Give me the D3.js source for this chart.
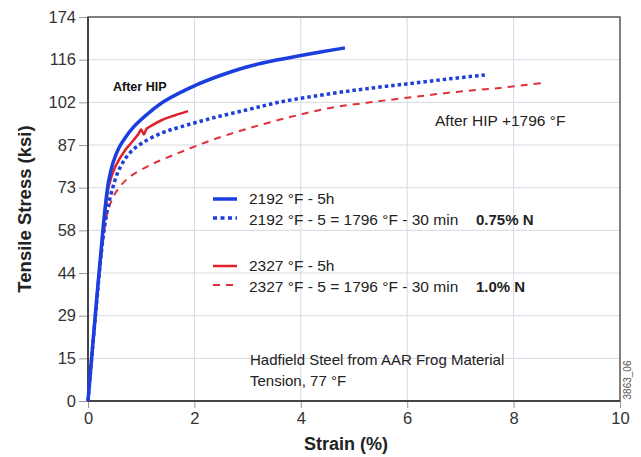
<!DOCTYPE html>
<html>
<head>
<meta charset="utf-8">
<script src="https://cdn.jsdelivr.net/npm/d3@7"></script>
<style>
    body { margin: 0; background: #fff; }
    svg text { font-family: Arial, "Liberation Sans", Helvetica, sans-serif; }
</style>
</head>
<body>
<div id="chart"></div>
<script>
// strain (%) vs tensile stress
const strainBlue = [0, 0.15, 0.28, 0.33, 0.39, 0.47, 0.58, 0.7, 0.85, 1.15, 1.45, 2.05, 2.5, 3.0, 3.5, 4.0, 4.4, 4.83];
const stressBlue = [0, 32, 58, 67, 75, 81, 86, 89.5, 93, 98, 102, 107.5, 110.7, 113.6, 115.7, 117.4, 118.7, 120];

const strainBlueHT = [0, 0.15, 0.28, 0.36, 0.45, 0.58, 0.77, 1.02, 1.39, 1.73, 2.35, 3.0, 3.61, 4.61, 5.4, 6.11, 6.8, 7.46];
const stressBlueHT = [0, 31, 55, 64.5, 71.5, 78.5, 84, 87.7, 91.1, 93.1, 96.2, 99, 101.6, 104.6, 106.5, 108, 109.5, 110.8];

const strainRed = [0, 0.15, 0.28, 0.33, 0.39, 0.51, 0.7, 0.85, 0.96, 1.0, 1.05, 1.1, 1.15, 1.39, 1.65, 1.88];
const stressRed = [0, 31.5, 57, 65.5, 73, 79.5, 85.3, 88.5, 91.1, 92.3, 90.6, 92.5, 93.1, 95.5, 97.2, 98.5];

const strainRedHT = [0, 0.15, 0.28, 0.36, 0.51, 0.77, 1.15, 1.39, 1.73, 2.3, 2.99, 3.8, 4.55, 5.3, 6.11, 6.9, 7.74, 8.56];
const stressRedHT = [0, 30, 54, 63.5, 70.5, 76, 80, 82, 84.5, 88.5, 92.5, 96.5, 99.6, 101.5, 103.3, 105, 106.4, 108.1];

// y ticks are evenly spaced (100 MPa steps) but labelled in ksi
const yTickValues = [0, 14.5, 29, 43.5, 58, 72.5, 87, 101.5, 116, 130.5];
const yTickLabels = ["0", "15", "29", "44", "58", "73", "87", "102", "116", "174"];
const xTickValues = [0, 2, 4, 6, 8, 10];

const legendLabels = ["2192 °F - 5h", "2192 °F - 5 = 1796 °F - 30 min", "2327 °F - 5h", "2327 °F - 5 = 1796 °F - 30 min"];
const nitrogenLabels = ["0.75% N", "1.0% N"];

let width = 641, height = 457;
let x = d3.scaleLinear().domain([0, 10]).range([88, 620]);
let y = d3.scaleLinear().domain([0, 130.5]).range([401, 17]);

let svg = d3.select("#chart").append("svg")
    .attr("width", width)
    .attr("height", height);

// grid
svg.append("g").selectAll("line")
    .data(yTickValues.slice(1, -1))
    .enter().append("line")
    .attr("x1", x(0)).attr("x2", x(10))
    .attr("y1", d => y(d)).attr("y2", d => y(d))
    .attr("stroke", "#d6d9e4").attr("stroke-width", 1);
svg.append("g").selectAll("line")
    .data(xTickValues.slice(1, -1))
    .enter().append("line")
    .attr("x1", d => x(d)).attr("x2", d => x(d))
    .attr("y1", y(0)).attr("y2", y(130.5))
    .attr("stroke", "#d6d9e4").attr("stroke-width", 1);

// axes
let yAxis = d3.axisLeft(y)
    .tickValues(yTickValues)
    .tickFormat((d, i) => yTickLabels[i])
    .tickSize(9).tickPadding(3);
let xAxis = d3.axisBottom(x)
    .tickValues(xTickValues)
    .tickFormat(d3.format("d"))
    .tickSize(7).tickPadding(4);

let gy = svg.append("g").attr("transform", "translate(" + x(0) + ",0)").call(yAxis);
let gx = svg.append("g").attr("transform", "translate(0," + y(0) + ")").call(xAxis);
[gy, gx].forEach(g => {
    g.select(".domain").remove();
    g.selectAll(".tick line").attr("stroke", "#999");
    g.selectAll(".tick text").attr("fill", "#333").style("font-size", "16.5px");
});

// frame
svg.append("rect")
    .attr("x", x(0)).attr("y", y(130.5))
    .attr("width", x(10) - x(0)).attr("height", y(0) - y(130.5))
    .attr("fill", "none").attr("stroke", "#555").attr("stroke-width", 1.5);
svg.append("path")
    .attr("d", "M" + x(0) + "," + y(130.5) + "V" + y(0) + "H" + x(10))
    .attr("fill", "none").attr("stroke", "#444").attr("stroke-width", 2);

// curves
let line = d3.line()
    .x(d => x(d[0]))
    .y(d => y(d[1]))
    .curve(d3.curveCatmullRom.alpha(0.5));

let series = [
    {sx: strainRedHT, sy: stressRedHT, color: "#e0303a", w: 2, dash: "7,6"},
    {sx: strainBlueHT, sy: stressBlueHT, color: "#1f3fd8", w: 3.5, dash: "3.5,3"},
    {sx: strainRed, sy: stressRed, color: "#e0202a", w: 2.5, dash: null},
    {sx: strainBlue, sy: stressBlue, color: "#1a3ee0", w: 3.5, dash: null}
];

svg.append("g").selectAll("path")
    .data(series)
    .enter().append("path")
    .attr("d", s => line(s.sx.map((v, i) => [v, s.sy[i]])))
    .attr("fill", "none")
    .attr("stroke", s => s.color)
    .attr("stroke-width", s => s.w)
    .attr("stroke-dasharray", s => s.dash);

// legend
let legendItems = [
    {label: legendLabels[0], color: "#1a3ee0", w: 3.5, dash: null, cy: 199},
    {label: legendLabels[1], color: "#1f3fd8", w: 3.5, dash: "4,3.5", cy: 218},
    {label: legendLabels[2], color: "#e0202a", w: 2.5, dash: null, cy: 266},
    {label: legendLabels[3], color: "#e0303a", w: 2, dash: "7,6", cy: 285}
];
let legend = svg.append("g");
legend.selectAll("line")
    .data(legendItems)
    .enter().append("line")
    .attr("x1", 213).attr("x2", 237)
    .attr("y1", d => d.cy).attr("y2", d => d.cy)
    .attr("stroke", d => d.color)
    .attr("stroke-width", d => d.w)
    .attr("stroke-dasharray", d => d.dash);
legend.selectAll("text")
    .data(legendItems)
    .enter().append("text")
    .attr("x", 249)
    .attr("y", (d, i) => d.cy + (i % 2 ? 2 : 0))
    .attr("dy", "0.35em")
    .attr("fill", "#222")
    .style("font-size", "15.5px")
    .text(d => d.label);
legend.selectAll("text.n")
    .data(nitrogenLabels)
    .enter().append("text")
    .attr("class", "n")
    .attr("x", 476)
    .attr("y", (d, i) => legendItems[i * 2 + 1].cy + 2)
    .attr("dy", "0.35em")
    .attr("fill", "#222")
    .style("font-size", "15px")
    .style("font-weight", "bold")
    .text(d => d);

// annotations
svg.append("text")
    .attr("x", 113).attr("y", 91)
    .style("font-size", "12.5px").style("font-weight", "bold")
    .attr("fill", "#111")
    .text("After HIP");
svg.append("text")
    .attr("x", 435).attr("y", 126)
    .style("font-size", "15.5px")
    .attr("fill", "#222")
    .text("After HIP +1796 °F");
svg.append("text")
    .attr("x", 250).attr("y", 365)
    .style("font-size", "15px")
    .attr("fill", "#222")
    .text("Hadfield Steel from AAR Frog Material");
svg.append("text")
    .attr("x", 250).attr("y", 386)
    .style("font-size", "15px")
    .attr("fill", "#222")
    .text("Tension, 77 °F");
svg.append("text")
    .attr("transform", "translate(631,380) rotate(-90)")
    .attr("text-anchor", "middle")
    .style("font-size", "10px")
    .attr("fill", "#555")
    .text("3863_06");

// axis titles
svg.append("text")
    .attr("x", 346).attr("y", 450)
    .attr("text-anchor", "middle")
    .style("font-size", "18px").style("font-weight", "bold")
    .attr("fill", "#222")
    .text("Strain (%)");
svg.append("text")
    .attr("transform", "translate(31,209) rotate(-90)")
    .attr("text-anchor", "middle")
    .style("font-size", "18.5px").style("font-weight", "bold")
    .attr("fill", "#222")
    .text("Tensile Stress (ksi)");
</script>
</body>
</html>
